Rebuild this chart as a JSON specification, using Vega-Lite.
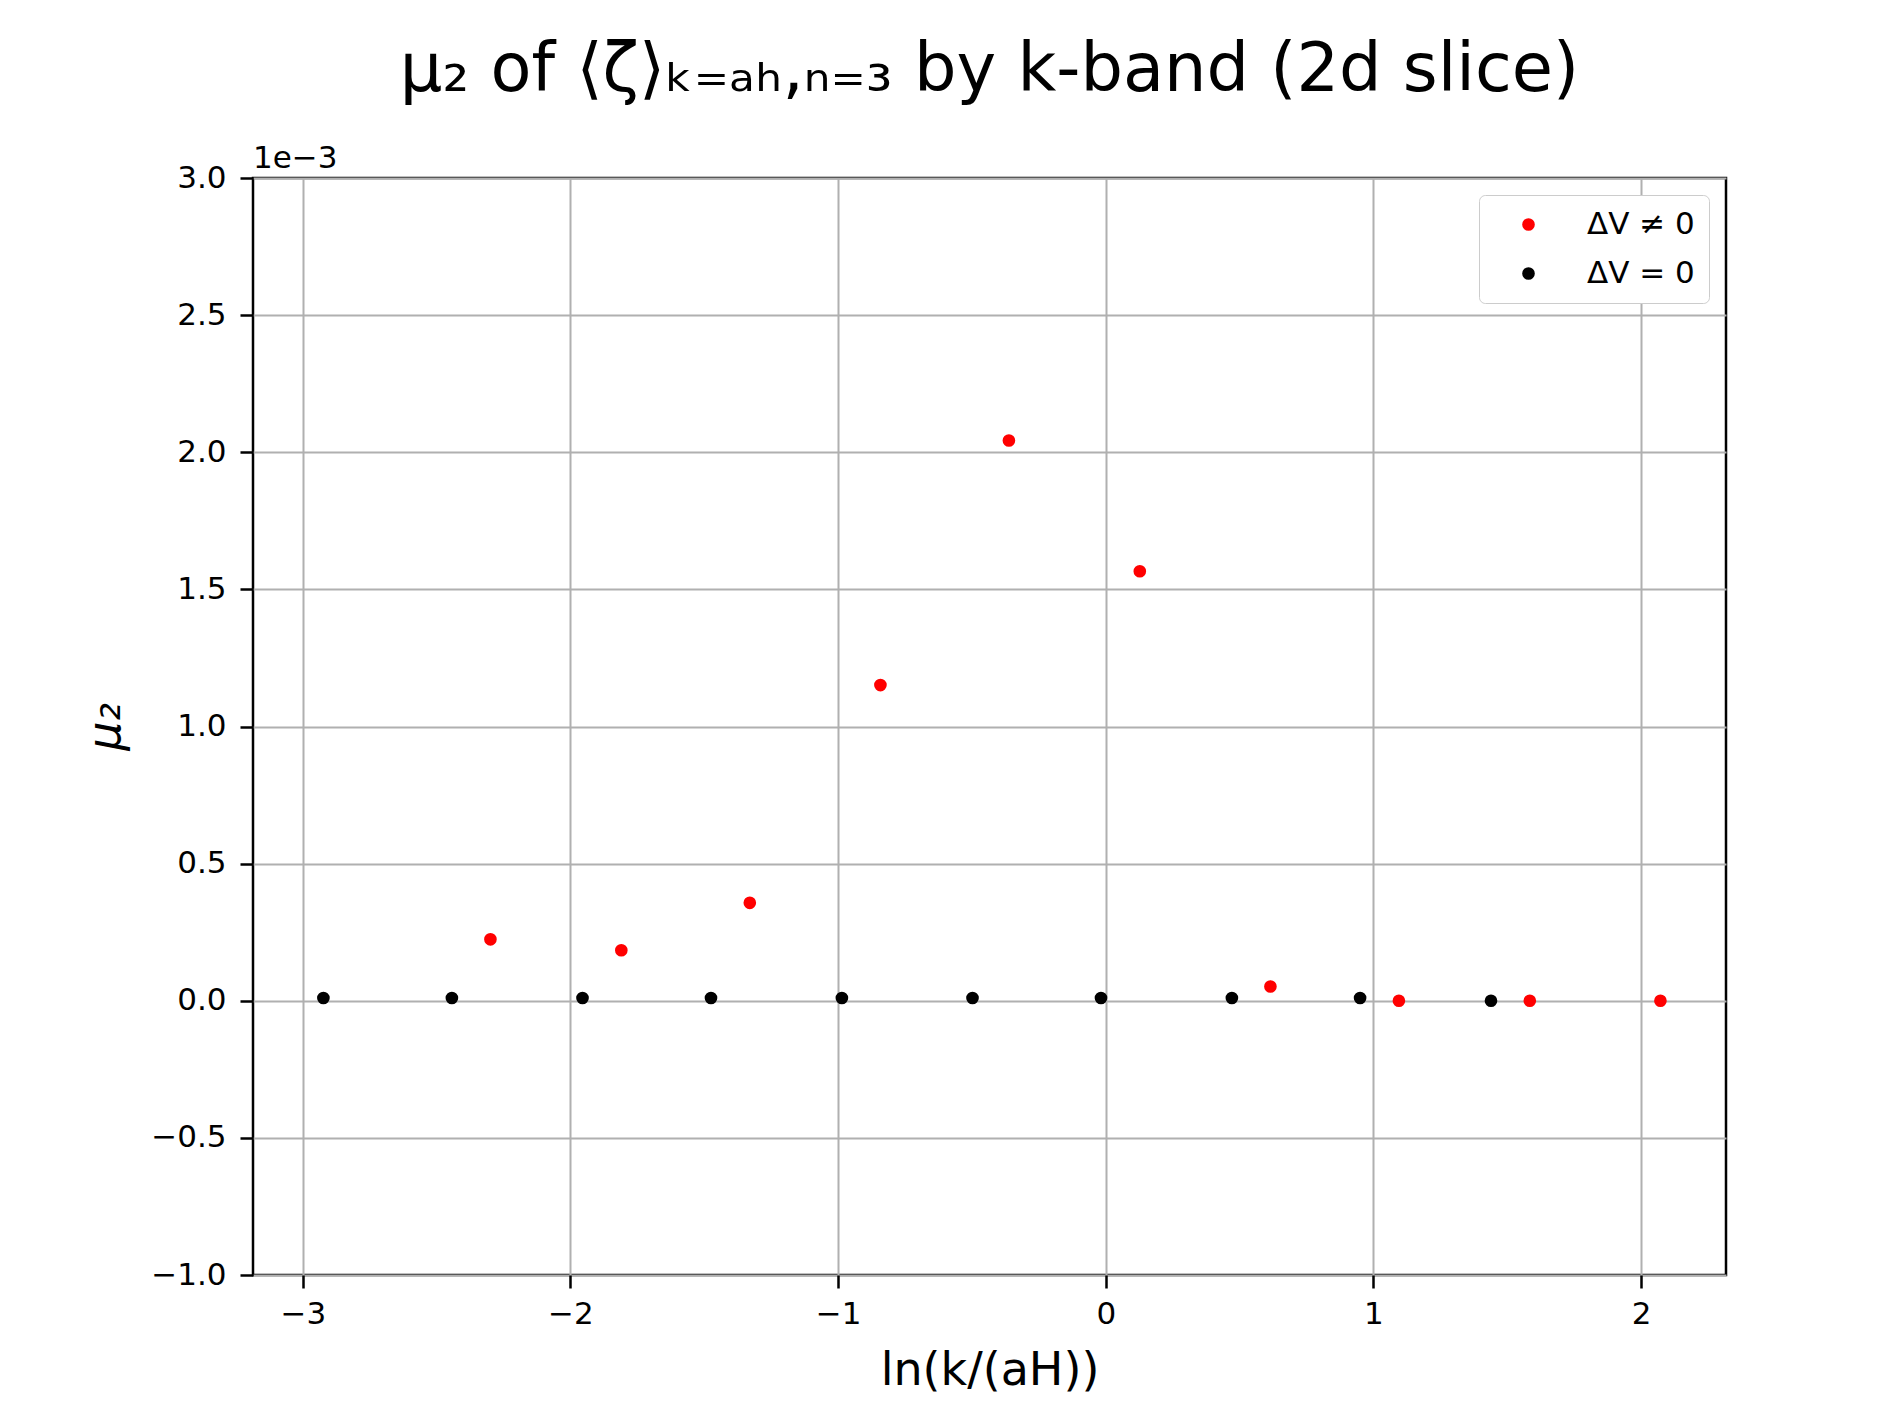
{
  "$schema": "https://vega.github.io/schema/vega-lite/v6.json",
  "width": 1473,
  "height": 1097,
  "autosize": "none",
  "padding": {"left": 253, "top": 178, "right": 173, "bottom": 146},
  "background": "white",
  "config": {
    "font": "DejaVu Sans",
    "view": {"stroke": "black", "strokeWidth": 2.5}
  },
  "title": {
    "text": "μ₂ of ⟨ζ⟩ₖ₌ₐₕ,ₙ₌₃ by k-band (2d slice)",
    "fontSize": 67,
    "fontWeight": "normal",
    "color": "black",
    "font": "DejaVu Sans",
    "anchor": "middle",
    "baseline": "alphabetic",
    "offset": -15
  },
  "data": {
    "values": [
      {"x": -2.923, "y": 0.00001, "series": "ΔV = 0"},
      {"x": -2.443, "y": 0.00001, "series": "ΔV = 0"},
      {"x": -1.955, "y": 0.00001, "series": "ΔV = 0"},
      {"x": -1.475, "y": 0.00001, "series": "ΔV = 0"},
      {"x": -0.986, "y": 0.00001, "series": "ΔV = 0"},
      {"x": -0.498, "y": 0.00001, "series": "ΔV = 0"},
      {"x": -0.018, "y": 0.00001, "series": "ΔV = 0"},
      {"x": 0.471, "y": 0.00001, "series": "ΔV = 0"},
      {"x": 0.950, "y": 0.00001, "series": "ΔV = 0"},
      {"x": 1.439, "y": 0.0, "series": "ΔV = 0"},
      {"x": -2.299, "y": 0.000224, "series": "ΔV ≠ 0"},
      {"x": -1.810, "y": 0.000184, "series": "ΔV ≠ 0"},
      {"x": -1.330, "y": 0.000357, "series": "ΔV ≠ 0"},
      {"x": -0.842, "y": 0.001151, "series": "ΔV ≠ 0"},
      {"x": -0.362, "y": 0.002043, "series": "ΔV ≠ 0"},
      {"x": 0.127, "y": 0.001566, "series": "ΔV ≠ 0"},
      {"x": 0.615, "y": 0.000052, "series": "ΔV ≠ 0"},
      {"x": 1.095, "y": 0.0, "series": "ΔV ≠ 0"},
      {"x": 1.584, "y": 0.0, "series": "ΔV ≠ 0"},
      {"x": 2.072, "y": 0.0, "series": "ΔV ≠ 0"}
    ]
  },
  "layer": [
    {
      "mark": {"type": "point", "filled": true, "opacity": 1, "size": 160, "strokeWidth": 0},
      "encoding": {
        "x": {
          "field": "x",
          "type": "quantitative",
          "scale": {"domain": [-3.186, 2.317], "nice": false, "zero": false},
          "axis": {
            "values": [-3, -2, -1, 0, 1, 2],
            "format": "d",
            "grid": true,
            "gridColor": "#b0b0b0",
            "gridWidth": 2,
            "domain": false,
            "ticks": true,
            "tickSize": 13,
            "tickWidth": 2.5,
            "tickColor": "black",
            "labelFontSize": 31,
            "labelColor": "black",
            "labelPadding": 11,
            "labelFont": "DejaVu Sans",
            "title": "ln(k/(aH))",
            "titleFont": "DejaVu Sans",
            "titleFontSize": 46,
            "titleFontWeight": "normal",
            "titleColor": "black",
            "titleX": 736.5,
            "titleY": 109,
            "titleAlign": "center",
            "titleBaseline": "alphabetic"
          }
        },
        "y": {
          "field": "y",
          "type": "quantitative",
          "scale": {"domain": [-0.001, 0.003], "nice": false, "zero": false},
          "axis": {
            "values": [-0.001, -0.0005, 0, 0.0005, 0.001, 0.0015, 0.002, 0.0025, 0.003],
            "labelExpr": "format(datum.value * 1000, '.1f')",
            "grid": true,
            "gridColor": "#b0b0b0",
            "gridWidth": 2,
            "domain": false,
            "ticks": true,
            "tickSize": 13,
            "tickWidth": 2.5,
            "tickColor": "black",
            "labelFontSize": 31,
            "labelColor": "black",
            "labelPadding": 14,
            "labelFont": "DejaVu Sans",
            "title": "μ₂",
            "titleFont": "DejaVu Sans",
            "titleFontSize": 46,
            "titleFontWeight": "normal",
            "titleFontStyle": "italic",
            "titleColor": "black",
            "titleAngle": -90,
            "titleX": -148,
            "titleY": 548.5,
            "titleAlign": "center",
            "titleBaseline": "middle"
          }
        },
        "color": {
          "field": "series",
          "type": "nominal",
          "scale": {"domain": ["ΔV ≠ 0", "ΔV = 0"], "range": ["#ff0000", "#000000"]},
          "legend": {
            "title": null,
            "orient": "top-right",
            "offset": 17,
            "padding": 14,
            "symbolOffset": 20,
            "labelOffset": 43,
            "labelFontSize": 31,
            "labelFont": "DejaVu Sans",
            "labelColor": "black",
            "rowPadding": 17,
            "symbolSize": 160,
            "symbolType": "circle",
            "symbolStrokeWidth": 0,
            "fillColor": "white",
            "strokeColor": "#cccccc",
            "cornerRadius": 6
          }
        }
      }
    },
    {
      "data": {"values": [{"label": "1e−3"}]},
      "mark": {"type": "text", "align": "left", "baseline": "alphabetic", "dy": -10, "fontSize": 31, "color": "black", "font": "DejaVu Sans"},
      "encoding": {
        "x": {"datum": -3.186},
        "y": {"datum": 0.003},
        "text": {"field": "label"}
      }
    }
  ]
}
